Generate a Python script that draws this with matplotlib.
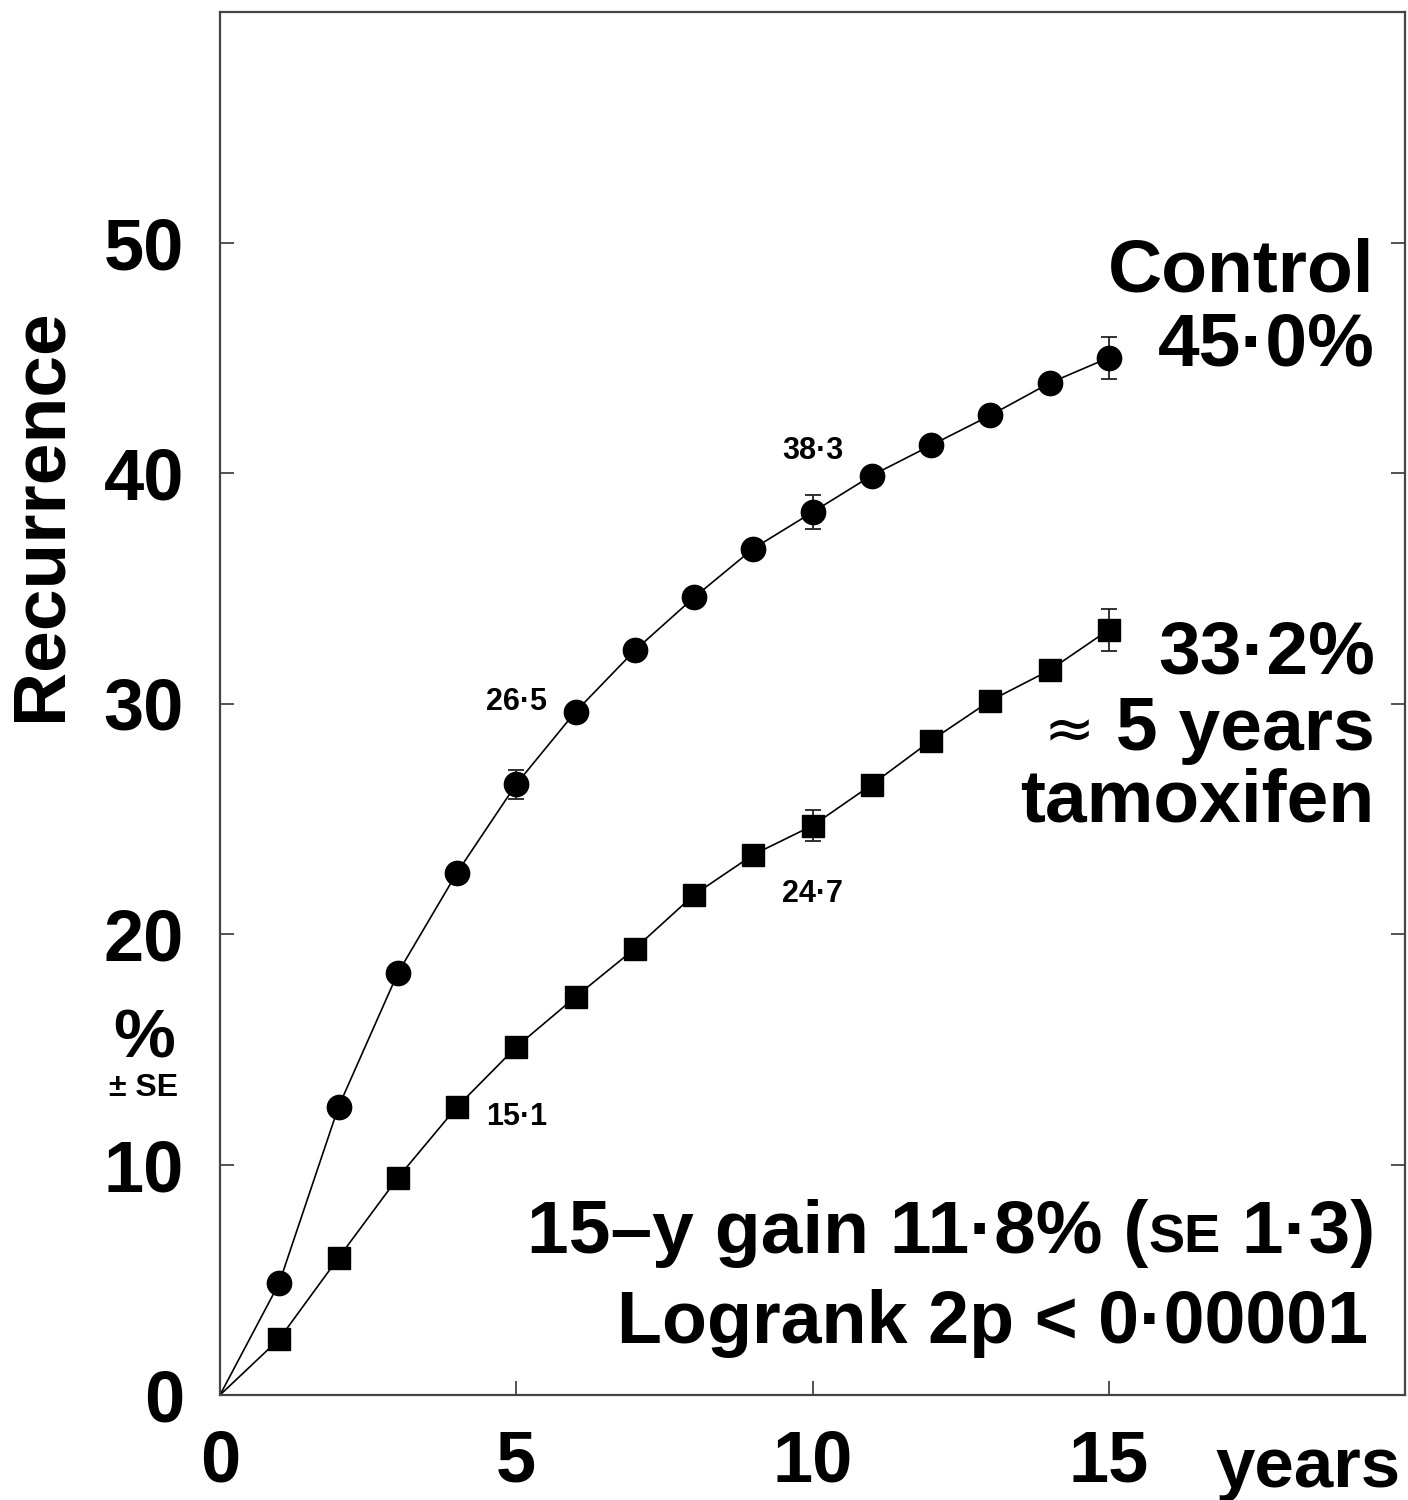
import matplotlib
matplotlib.use("Agg")
import matplotlib.pyplot as plt

plt.rcParams['font.family'] = ['Liberation Sans', 'DejaVu Sans']
plt.rcParams['font.weight'] = 'bold'

# ---- data ----
years = [0, 1, 2, 3, 4, 5, 6, 7, 8, 9, 10, 11, 12, 13, 14, 15]
control = [0, 4.86, 12.5, 18.3, 22.66, 26.5, 29.64, 32.3, 34.6, 36.72, 38.3, 39.89, 41.2, 42.5, 43.9, 45.0]
tamoxifen = [0, 2.43, 5.95, 9.42, 12.5, 15.1, 17.27, 19.36, 21.7, 23.44, 24.7, 26.48, 28.39, 30.12, 31.44, 33.2]
se_years = [5, 10, 15]
control_se_val = [26.5, 38.3, 45.0]
control_se = [0.63, 0.74, 0.92]
tam_se_val = [15.1, 24.7, 33.2]
tam_se = [0.42, 0.67, 0.91]
xticks = [0, 5, 10, 15]
yticks = [0, 10, 20, 30, 40, 50]
point_labels = [(5, 29.73, "26·5"), (10, 40.62, "38·3"), (10, 21.4, "24·7"), (5, 11.72, "15·1")]

fig = plt.figure(figsize=(14.08, 15), dpi=100)
ax = fig.add_axes([220/1408, 105/1500, 1185/1408, 1383/1500])

ax.plot(years, control, color='black', lw=1.2, zorder=2)
ax.plot(years[1:], control[1:], 'o', color='black', ms=17.5, zorder=3)
ax.plot(years, tamoxifen, color='black', lw=1.2, zorder=2)
ax.plot(years[1:], tamoxifen[1:], 's', color='black', ms=15.5, zorder=3)
ax.errorbar(se_years, control_se_val, yerr=control_se, fmt='none', ecolor='#222222',
            elinewidth=1.3, capsize=6, capthick=1.3, zorder=2.5)
ax.errorbar(se_years, tam_se_val, yerr=tam_se, fmt='none', ecolor='#222222',
            elinewidth=1.3, capsize=6, capthick=1.3, zorder=2.5)

ax.set_xlim(0, 20)
ax.set_ylim(0, 60)
ax.set_xticks(xticks)
ax.set_yticks(yticks)
ax.set_xticklabels([str(v) for v in xticks], fontsize=52, fontweight='bold')
ax.set_yticklabels([str(v) for v in yticks], fontsize=52, fontweight='bold')
ax.tick_params(axis='both', direction='in', length=10, width=1.3, color='#444444')
ax.tick_params(axis='y', right=True, pad=26)
ax.tick_params(axis='x', pad=24)
for s in ax.spines.values():
    s.set_color('#444444')
    s.set_linewidth(1.6)

for x, y, t in point_labels:
    ax.text(x, y, t, fontsize=22, fontweight='bold', ha='center', va='baseline')

rx = 19.49
big = 54
ax.text(rx, 47.87, "Control", fontsize=big, fontweight='bold', ha='right', va='baseline')
ax.text(rx, 44.66, "45·0%", fontsize=big, fontweight='bold', ha='right', va='baseline')
ax.text(rx, 31.30, "33·2%", fontsize=big, fontweight='bold', ha='right', va='baseline')
t5 = ax.text(rx, 28.0, " 5 years", fontsize=big, fontweight='bold', ha='right', va='baseline')
ax.annotate("≈", xy=(0, 28.0 / 60), xycoords=(t5, 'axes fraction'), fontsize=44,
            fontweight='normal', family=['DejaVu Sans'], ha='right', va='baseline')
ax.text(rx, 24.87, "tamoxifen", fontsize=big, fontweight='bold', ha='right', va='baseline')

# bottom annotation with small-caps SE
yb1 = (1395 - 1253) / 23.04 / 60
bsz = 54
t3 = ax.text(rx / 20, yb1, " 1·3)", transform=ax.transAxes, fontsize=bsz,
             fontweight='bold', ha='right', va='baseline')
t2 = ax.annotate("SE", xy=(0, yb1), xycoords=(t3, 'axes fraction'), fontsize=39,
                 fontweight='bold', ha='right', va='baseline')
ax.annotate("15–y gain 11·8% (", xy=(0, yb1), xycoords=(t2, 'axes fraction'),
            fontsize=bsz, fontweight='bold', ha='right', va='baseline')
ax.text(19.38, (1395 - 1343) / 23.04, "Logrank 2p < 0·00001", fontsize=53,
        fontweight='bold', ha='right', va='baseline')

# x unit label
ax.text(16.80, (1395 - 1487) / 23.04, "years", fontsize=51, fontweight='bold',
        ha='left', va='baseline', clip_on=False)

# y axis labels
fig.text(41/1408, 1 - 515/1500, "Recurrence", fontsize=54, fontweight='bold',
         rotation=90, ha='center', va='center')
fig.text(144/1408, 1 - 1058/1500, "%", fontsize=50, fontweight='bold',
         ha='center', va='baseline')
fig.text(144/1408, 1 - 1096/1500, "± SE", fontsize=23, fontweight='bold',
         ha='center', va='baseline')

fig.savefig("out.png", dpi=100)
